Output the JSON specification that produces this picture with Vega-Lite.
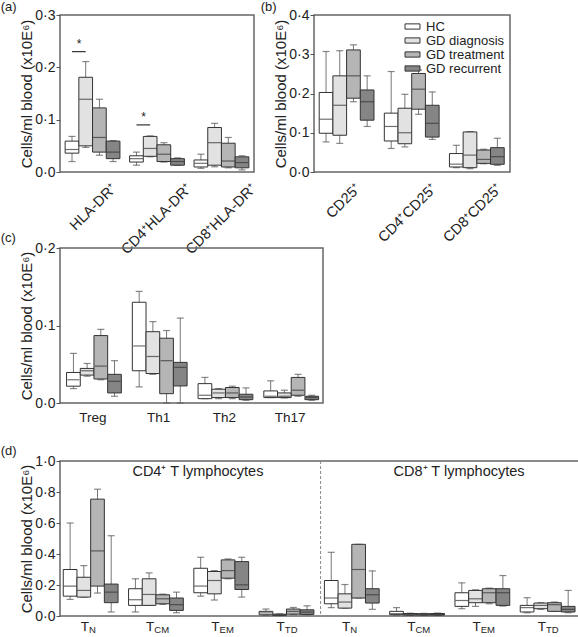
{
  "$schema": "https://vega.github.io/schema/vega-lite/v6.json",
  "padding": {"left": 0, "top": 0, "right": 0, "bottom": 0},
  "config": {
    "font": "Liberation Sans",
    "view": {"stroke": "#666", "strokeWidth": 1.5},
    "axis": {"grid": false, "domain": false, "labelColor": "#222", "titleColor": "#222", "tickColor": "#555", "titleFontWeight": "normal"},
    "axisY": {"tickSize": 4, "labelFontSize": 14, "titleFontSize": 15, "labelPadding": 1, "titlePadding": 0, "labelFlush": false, "labelOverlap": false},
    "axisX": {"ticks": false, "labelFontSize": 13, "labelPadding": 5, "labelOverlap": false},
    "title": {"fontSize": 13, "fontWeight": "normal", "anchor": "start", "frame": "bounds", "color": "#222"}
  },
  "datasets": {
    "a": [
      {"cat":"HLA-DR⁺","grp":"HC","lo":0.020,"q1":0.036,"med":0.043,"q3":0.059,"hi":0.068},
      {"cat":"HLA-DR⁺","grp":"GD diagnosis","lo":0.047,"q1":0.050,"med":0.139,"q3":0.181,"hi":0.211},
      {"cat":"HLA-DR⁺","grp":"GD treatment","lo":0.032,"q1":0.038,"med":0.066,"q3":0.1225,"hi":0.139},
      {"cat":"HLA-DR⁺","grp":"GD recurrent","lo":0.020,"q1":0.0255,"med":0.038,"q3":0.059,"hi":0.060},
      {"cat":"CD4⁺HLA-DR⁺","grp":"HC","lo":0.013,"q1":0.019,"med":0.0255,"q3":0.031,"hi":0.038},
      {"cat":"CD4⁺HLA-DR⁺","grp":"GD diagnosis","lo":0.029,"q1":0.030,"med":0.045,"q3":0.068,"hi":0.069},
      {"cat":"CD4⁺HLA-DR⁺","grp":"GD treatment","lo":0.019,"q1":0.020,"med":0.034,"q3":0.052,"hi":0.056},
      {"cat":"CD4⁺HLA-DR⁺","grp":"GD recurrent","lo":0.0128,"q1":0.013,"med":0.020,"q3":0.0255,"hi":0.027},
      {"cat":"CD8⁺HLA-DR⁺","grp":"HC","lo":0.007,"q1":0.0096,"med":0.0166,"q3":0.023,"hi":0.034},
      {"cat":"CD8⁺HLA-DR⁺","grp":"GD diagnosis","lo":0.010,"q1":0.013,"med":0.056,"q3":0.085,"hi":0.093},
      {"cat":"CD8⁺HLA-DR⁺","grp":"GD treatment","lo":0.008,"q1":0.0096,"med":0.021,"q3":0.055,"hi":0.066},
      {"cat":"CD8⁺HLA-DR⁺","grp":"GD recurrent","lo":0.004,"q1":0.008,"med":0.018,"q3":0.029,"hi":0.031}
    ],
    "asig": [
      {"cat":"HLA-DR⁺","grp":"HC","y":0.23},
      {"cat":"HLA-DR⁺","grp":"GD diagnosis","y":0.23},
      {"cat":"CD4⁺HLA-DR⁺","grp":"HC","y":0.09},
      {"cat":"CD4⁺HLA-DR⁺","grp":"GD diagnosis","y":0.09}
    ],
    "b": [
      {"cat":"CD25⁺","grp":"HC","lo":0.0766,"q1":0.0987,"med":0.1345,"q3":0.2026,"hi":0.307},
      {"cat":"CD25⁺","grp":"GD diagnosis","lo":0.073,"q1":0.0936,"med":0.170,"q3":0.245,"hi":0.309},
      {"cat":"CD25⁺","grp":"GD treatment","lo":0.179,"q1":0.188,"med":0.245,"q3":0.311,"hi":0.324},
      {"cat":"CD25⁺","grp":"GD recurrent","lo":0.116,"q1":0.132,"med":0.179,"q3":0.209,"hi":0.245},
      {"cat":"CD4⁺CD25⁺","grp":"HC","lo":0.060,"q1":0.079,"med":0.116,"q3":0.150,"hi":0.256},
      {"cat":"CD4⁺CD25⁺","grp":"GD diagnosis","lo":0.064,"q1":0.072,"med":0.100,"q3":0.1625,"hi":0.198},
      {"cat":"CD4⁺CD25⁺","grp":"GD treatment","lo":0.147,"q1":0.160,"med":0.211,"q3":0.251,"hi":0.260},
      {"cat":"CD4⁺CD25⁺","grp":"GD recurrent","lo":0.083,"q1":0.089,"med":0.124,"q3":0.170,"hi":0.204},
      {"cat":"CD8⁺CD25⁺","grp":"HC","lo":0.011,"q1":0.0128,"med":0.020,"q3":0.047,"hi":0.068},
      {"cat":"CD8⁺CD25⁺","grp":"GD diagnosis","lo":0.0085,"q1":0.011,"med":0.043,"q3":0.102,"hi":0.103},
      {"cat":"CD8⁺CD25⁺","grp":"GD treatment","lo":0.021,"q1":0.022,"med":0.032,"q3":0.056,"hi":0.058},
      {"cat":"CD8⁺CD25⁺","grp":"GD recurrent","lo":0.017,"q1":0.0196,"med":0.039,"q3":0.062,"hi":0.086}
    ],
    "c": [
      {"cat":"Treg","grp":"HC","lo":0.0186,"q1":0.0217,"med":0.030,"q3":0.0394,"hi":0.064},
      {"cat":"Treg","grp":"GD diagnosis","lo":0.0346,"q1":0.036,"med":0.0416,"q3":0.0446,"hi":0.051},
      {"cat":"Treg","grp":"GD treatment","lo":0.030,"q1":0.031,"med":0.0476,"q3":0.087,"hi":0.095},
      {"cat":"Treg","grp":"GD recurrent","lo":0.0087,"q1":0.013,"med":0.028,"q3":0.037,"hi":0.0546},
      {"cat":"Th1","grp":"HC","lo":0.0208,"q1":0.0416,"med":0.0736,"q3":0.130,"hi":0.144},
      {"cat":"Th1","grp":"GD diagnosis","lo":0.037,"q1":0.038,"med":0.060,"q3":0.092,"hi":0.105},
      {"cat":"Th1","grp":"GD treatment","lo":0.0,"q1":0.012,"med":0.0546,"q3":0.0836,"hi":0.0935},
      {"cat":"Th1","grp":"GD recurrent","lo":0.0,"q1":0.022,"med":0.046,"q3":0.0524,"hi":0.1096},
      {"cat":"Th2","grp":"HC","lo":0.0056,"q1":0.0056,"med":0.010,"q3":0.025,"hi":0.033},
      {"cat":"Th2","grp":"GD diagnosis","lo":0.0056,"q1":0.007,"med":0.013,"q3":0.0178,"hi":0.0186},
      {"cat":"Th2","grp":"GD treatment","lo":0.0056,"q1":0.007,"med":0.013,"q3":0.020,"hi":0.0217},
      {"cat":"Th2","grp":"GD recurrent","lo":0.0035,"q1":0.0043,"med":0.0078,"q3":0.0113,"hi":0.0195},
      {"cat":"Th17","grp":"HC","lo":0.007,"q1":0.007,"med":0.0087,"q3":0.0156,"hi":0.0286},
      {"cat":"Th17","grp":"GD diagnosis","lo":0.0065,"q1":0.007,"med":0.0087,"q3":0.013,"hi":0.0165},
      {"cat":"Th17","grp":"GD treatment","lo":0.0087,"q1":0.010,"med":0.0165,"q3":0.033,"hi":0.037},
      {"cat":"Th17","grp":"GD recurrent","lo":0.0035,"q1":0.0043,"med":0.007,"q3":0.0087,"hi":0.010}
    ],
    "d": [
      {"cat":"CD4 TN","grp":"HC","lo":0.107,"q1":0.128,"med":0.193,"q3":0.30,"hi":0.60},
      {"cat":"CD4 TN","grp":"GD diagnosis","lo":0.122,"q1":0.122,"med":0.165,"q3":0.25,"hi":0.325},
      {"cat":"CD4 TN","grp":"GD treatment","lo":0.148,"q1":0.193,"med":0.42,"q3":0.754,"hi":0.818},
      {"cat":"CD4 TN","grp":"GD recurrent","lo":0.026,"q1":0.086,"med":0.154,"q3":0.206,"hi":0.518},
      {"cat":"CD4 TCM","grp":"HC","lo":0.026,"q1":0.0685,"med":0.105,"q3":0.176,"hi":0.24},
      {"cat":"CD4 TCM","grp":"GD diagnosis","lo":0.0685,"q1":0.0685,"med":0.139,"q3":0.24,"hi":0.278},
      {"cat":"CD4 TCM","grp":"GD treatment","lo":0.075,"q1":0.079,"med":0.111,"q3":0.137,"hi":0.141},
      {"cat":"CD4 TCM","grp":"GD recurrent","lo":0.021,"q1":0.036,"med":0.073,"q3":0.116,"hi":0.154},
      {"cat":"CD4 TEM","grp":"HC","lo":0.128,"q1":0.15,"med":0.193,"q3":0.308,"hi":0.379},
      {"cat":"CD4 TEM","grp":"GD diagnosis","lo":0.103,"q1":0.143,"med":0.229,"q3":0.287,"hi":0.293},
      {"cat":"CD4 TEM","grp":"GD treatment","lo":0.24,"q1":0.244,"med":0.293,"q3":0.362,"hi":0.368},
      {"cat":"CD4 TEM","grp":"GD recurrent","lo":0.122,"q1":0.171,"med":0.201,"q3":0.351,"hi":0.379},
      {"cat":"CD4 TTD","grp":"HC","lo":0.006,"q1":0.008,"med":0.02,"q3":0.03,"hi":0.045},
      {"cat":"CD4 TTD","grp":"GD diagnosis","lo":0.003,"q1":0.004,"med":0.008,"q3":0.012,"hi":0.014},
      {"cat":"CD4 TTD","grp":"GD treatment","lo":0.01,"q1":0.012,"med":0.03,"q3":0.045,"hi":0.055},
      {"cat":"CD4 TTD","grp":"GD recurrent","lo":0.008,"q1":0.01,"med":0.025,"q3":0.04,"hi":0.066},
      {"cat":"CD8 TN","grp":"HC","lo":0.054,"q1":0.079,"med":0.116,"q3":0.229,"hi":0.411},
      {"cat":"CD8 TN","grp":"GD diagnosis","lo":0.051,"q1":0.051,"med":0.09,"q3":0.143,"hi":0.203},
      {"cat":"CD8 TN","grp":"GD treatment","lo":0.116,"q1":0.116,"med":0.30,"q3":0.4625,"hi":0.4625},
      {"cat":"CD8 TN","grp":"GD recurrent","lo":0.043,"q1":0.0835,"med":0.137,"q3":0.176,"hi":0.291},
      {"cat":"CD8 TCM","grp":"HC","lo":0.006,"q1":0.0086,"med":0.015,"q3":0.03,"hi":0.054},
      {"cat":"CD8 TCM","grp":"GD diagnosis","lo":0.004,"q1":0.006,"med":0.01,"q3":0.016,"hi":0.018},
      {"cat":"CD8 TCM","grp":"GD treatment","lo":0.004,"q1":0.006,"med":0.01,"q3":0.015,"hi":0.017},
      {"cat":"CD8 TCM","grp":"GD recurrent","lo":0.004,"q1":0.006,"med":0.01,"q3":0.016,"hi":0.019},
      {"cat":"CD8 TEM","grp":"HC","lo":0.047,"q1":0.062,"med":0.10,"q3":0.15,"hi":0.214},
      {"cat":"CD8 TEM","grp":"GD diagnosis","lo":0.062,"q1":0.0857,"med":0.111,"q3":0.165,"hi":0.169},
      {"cat":"CD8 TEM","grp":"GD treatment","lo":0.079,"q1":0.0857,"med":0.15,"q3":0.176,"hi":0.18},
      {"cat":"CD8 TEM","grp":"GD recurrent","lo":0.064,"q1":0.0685,"med":0.15,"q3":0.176,"hi":0.261},
      {"cat":"CD8 TTD","grp":"HC","lo":0.021,"q1":0.026,"med":0.054,"q3":0.0685,"hi":0.118},
      {"cat":"CD8 TTD","grp":"GD diagnosis","lo":0.043,"q1":0.047,"med":0.0685,"q3":0.0835,"hi":0.086},
      {"cat":"CD8 TTD","grp":"GD treatment","lo":0.03,"q1":0.03,"med":0.073,"q3":0.0857,"hi":0.09},
      {"cat":"CD8 TTD","grp":"GD recurrent","lo":0.021,"q1":0.026,"med":0.043,"q3":0.062,"hi":0.165}
    ]
  },
  "resolve": {"scale": {"fill": "independent"}},
  "bounds": "flush",
  "spacing": 254,
  "hconcat": [
    {
      "bounds": "flush",
      "spacing": 76,
      "resolve": {"scale": {"fill": "independent"}},
      "vconcat": [
        {
          "width": 194, "height": 157,
          "title": {"text": "(a)", "dx": -19, "offset": -6},
          "encoding": {
            "x": {"field": "cat", "type": "nominal", "scale": {"domain": ["HLA-DR⁺","CD4⁺HLA-DR⁺","CD8⁺HLA-DR⁺"], "paddingInner": 0.15, "paddingOuter": 0.08},
                  "axis": {"title": null, "labelAngle": -45, "labelFontSize": 14.5, "labelAlign": "right", "labelBaseline": "top", "labelPadding": 9,
                           "labelOffset": {"condition": {"test": "datum.value === 'HLA-DR⁺'", "value": 17}, "value": 28}}},
            "xOffset": {"field": "grp", "type": "nominal", "scale": {"domain": ["HC","GD diagnosis","GD treatment","GD recurrent"], "paddingInner": 0, "paddingOuter": 0}}
          },
          "layer": [
            {"data": {"name": "a"}, "mark": {"type": "rule", "color": "#777", "strokeWidth": 1},
             "encoding": {"y": {"field": "lo", "type": "quantitative", "scale": {"domain": [0, 0.3], "nice": false}, "axis": {"values": [0, 0.1, 0.2, 0.3], "labelOverlap": false, "labelExpr": "replace(format(datum.value, '.1f'), '.', '·')", "title": "Cells/ml blood (x10E⁶)"}}, "y2": {"field": "hi"}}},
            {"data": {"name": "a"}, "mark": {"type": "tick", "color": "#555", "size": 7, "thickness": 1.2}, "encoding": {"y": {"field": "hi", "type": "quantitative", "axis": {"values": [0, 0.1, 0.2, 0.3], "labelOverlap": false, "labelExpr": "replace(format(datum.value, '.1f'), '.', '·')", "title": "Cells/ml blood (x10E⁶)"}}}},
            {"data": {"name": "a"}, "mark": {"type": "tick", "color": "#555", "size": 7, "thickness": 1.2}, "encoding": {"y": {"field": "lo", "type": "quantitative", "axis": {"values": [0, 0.1, 0.2, 0.3], "labelOverlap": false, "labelExpr": "replace(format(datum.value, '.1f'), '.', '·')", "title": "Cells/ml blood (x10E⁶)"}}}},
            {"data": {"name": "a"}, "mark": {"type": "bar", "stroke": "#333", "strokeWidth": 1},
             "encoding": {"y": {"field": "q1", "type": "quantitative", "axis": {"values": [0, 0.1, 0.2, 0.3], "labelOverlap": false, "labelExpr": "replace(format(datum.value, '.1f'), '.', '·')", "title": "Cells/ml blood (x10E⁶)"}}, "y2": {"field": "q3"}, "fill": {"field": "grp", "type": "nominal", "scale": {"domain": ["HC","GD diagnosis","GD treatment","GD recurrent"], "range": ["#ffffff","#e2e2e2","#b5b5b5","#858585"]}, "legend": null}}},
            {"data": {"name": "a"}, "mark": {"type": "tick", "color": "#333", "size": 13, "thickness": 1.2}, "encoding": {"y": {"field": "med", "type": "quantitative", "axis": {"values": [0, 0.1, 0.2, 0.3], "labelOverlap": false, "labelExpr": "replace(format(datum.value, '.1f'), '.', '·')", "title": "Cells/ml blood (x10E⁶)"}}}},
            {"data": {"name": "asig"}, "mark": {"type": "line", "color": "#333", "strokeWidth": 1.2}, "encoding": {"y": {"field": "y", "type": "quantitative", "axis": {"values": [0, 0.1, 0.2, 0.3], "labelOverlap": false, "labelExpr": "replace(format(datum.value, '.1f'), '.', '·')", "title": "Cells/ml blood (x10E⁶)"}}, "detail": {"field": "cat"}}},
            {"data": {"name": "asig"}, "transform": [{"filter": "datum.grp == 'HC'"}], "mark": {"type": "text", "text": "*", "dx": 7, "dy": -1, "baseline": "bottom", "fontSize": 12, "color": "#222"}, "encoding": {"y": {"field": "y", "type": "quantitative", "axis": {"values": [0, 0.1, 0.2, 0.3], "labelOverlap": false, "labelExpr": "replace(format(datum.value, '.1f'), '.', '·')", "title": "Cells/ml blood (x10E⁶)"}}}}
          ]
        },
        {
          "bounds": "flush",
          "spacing": 58,
          "resolve": {"scale": {"fill": "independent"}},
          "vconcat": [
            {
              "width": 263, "height": 155,
              "title": {"text": "(c)", "dx": -19, "offset": -4},
              "data": {"name": "c"},
              "encoding": {
                "x": {"field": "cat", "type": "nominal", "scale": {"domain": ["Treg","Th1","Th2","Th17"], "paddingInner": 0.2, "paddingOuter": 0.1}, "axis": {"title": null, "labelAngle": 0, "labelFontSize": 13.5, "labelPadding": 7}},
                "xOffset": {"field": "grp", "type": "nominal", "scale": {"domain": ["HC","GD diagnosis","GD treatment","GD recurrent"], "paddingInner": 0, "paddingOuter": 0}}
              },
              "layer": [
                {"mark": {"type": "rule", "color": "#777", "strokeWidth": 1},
                 "encoding": {"y": {"field": "lo", "type": "quantitative", "scale": {"domain": [0, 0.2], "nice": false}, "axis": {"values": [0, 0.1, 0.2], "labelOverlap": false, "labelExpr": "replace(format(datum.value, '.1f'), '.', '·')", "title": "Cells/ml blood (x10E⁶)"}}, "y2": {"field": "hi"}}},
                {"mark": {"type": "tick", "color": "#555", "size": 7, "thickness": 1.2}, "encoding": {"y": {"field": "hi", "type": "quantitative", "axis": {"values": [0, 0.1, 0.2], "labelOverlap": false, "labelExpr": "replace(format(datum.value, '.1f'), '.', '·')", "title": "Cells/ml blood (x10E⁶)"}}}},
                {"mark": {"type": "tick", "color": "#555", "size": 7, "thickness": 1.2}, "encoding": {"y": {"field": "lo", "type": "quantitative", "axis": {"values": [0, 0.1, 0.2], "labelOverlap": false, "labelExpr": "replace(format(datum.value, '.1f'), '.', '·')", "title": "Cells/ml blood (x10E⁶)"}}}},
                {"mark": {"type": "bar", "stroke": "#333", "strokeWidth": 1},
                 "encoding": {"y": {"field": "q1", "type": "quantitative", "axis": {"values": [0, 0.1, 0.2], "labelOverlap": false, "labelExpr": "replace(format(datum.value, '.1f'), '.', '·')", "title": "Cells/ml blood (x10E⁶)"}}, "y2": {"field": "q3"}, "fill": {"field": "grp", "type": "nominal", "scale": {"domain": ["HC","GD diagnosis","GD treatment","GD recurrent"], "range": ["#ffffff","#e2e2e2","#b5b5b5","#858585"]}, "legend": null}}},
                {"mark": {"type": "tick", "color": "#333", "size": 12, "thickness": 1.2}, "encoding": {"y": {"field": "med", "type": "quantitative", "axis": {"values": [0, 0.1, 0.2], "labelOverlap": false, "labelExpr": "replace(format(datum.value, '.1f'), '.', '·')", "title": "Cells/ml blood (x10E⁶)"}}}}
              ]
            },
            {
              "width": 519, "height": 155,
              "title": {"text": "(d)", "dx": -19, "offset": -4},
              "layer": [
                {
                  "data": {"name": "d"},
                  "encoding": {
                    "x": {"field": "cat", "type": "nominal", "scale": {"domain": ["CD4 TN","CD4 TCM","CD4 TEM","CD4 TTD","CD8 TN","CD8 TCM","CD8 TEM","CD8 TTD"], "paddingInner": 0.15, "paddingOuter": 0.05}, "axis": null},
                    "xOffset": {"field": "grp", "type": "nominal", "scale": {"domain": ["HC","GD diagnosis","GD treatment","GD recurrent"], "paddingInner": 0, "paddingOuter": 0}}
                  },
                  "layer": [
                    {"mark": {"type": "rule", "color": "#777", "strokeWidth": 1},
                     "encoding": {
                       "x": {"field": "cat", "type": "nominal", "axis": {"orient": "bottom", "title": null, "labelAngle": 0, "labelExpr": "'T'", "labelFontSize": 13.5, "labelAlign": "right", "labelOffset": -2, "labelPadding": 3}},
                       "y": {"field": "lo", "type": "quantitative", "scale": {"domain": [0, 1], "nice": false}, "axis": {"values": [0, 0.2, 0.4, 0.6, 0.8, 1.0], "labelOverlap": false, "labelExpr": "replace(format(datum.value, '.1f'), '.', '·')", "title": "Cells/ml blood (x10E⁶)"}}, "y2": {"field": "hi"}}},
                    {"mark": {"type": "tick", "color": "#555", "size": 7, "thickness": 1.2}, "encoding": {"y": {"field": "hi", "type": "quantitative", "axis": {"values": [0, 0.2, 0.4, 0.6, 0.8, 1.0], "labelOverlap": false, "labelExpr": "replace(format(datum.value, '.1f'), '.', '·')", "title": "Cells/ml blood (x10E⁶)"}}}},
                    {"mark": {"type": "tick", "color": "#555", "size": 7, "thickness": 1.2}, "encoding": {"y": {"field": "lo", "type": "quantitative", "axis": {"values": [0, 0.2, 0.4, 0.6, 0.8, 1.0], "labelOverlap": false, "labelExpr": "replace(format(datum.value, '.1f'), '.', '·')", "title": "Cells/ml blood (x10E⁶)"}}}},
                    {"mark": {"type": "bar", "stroke": "#333", "strokeWidth": 1},
                     "encoding": {
                       "x": {"field": "cat", "type": "nominal", "axis": {"orient": "bottom", "title": null, "labelAngle": 0, "labelExpr": "slice(datum.value, 5)", "labelFontSize": 9.5, "labelAlign": "left", "labelOffset": -2, "labelPadding": 8}},
                       "y": {"field": "q1", "type": "quantitative", "axis": {"values": [0, 0.2, 0.4, 0.6, 0.8, 1.0], "labelOverlap": false, "labelExpr": "replace(format(datum.value, '.1f'), '.', '·')", "title": "Cells/ml blood (x10E⁶)"}}, "y2": {"field": "q3"}, "fill": {"field": "grp", "type": "nominal", "scale": {"domain": ["HC","GD diagnosis","GD treatment","GD recurrent"], "range": ["#ffffff","#e2e2e2","#b5b5b5","#858585"]}, "legend": null}}},
                    {"mark": {"type": "tick", "color": "#333", "size": 13, "thickness": 1.2}, "encoding": {"y": {"field": "med", "type": "quantitative", "axis": {"values": [0, 0.2, 0.4, 0.6, 0.8, 1.0], "labelOverlap": false, "labelExpr": "replace(format(datum.value, '.1f'), '.', '·')", "title": "Cells/ml blood (x10E⁶)"}}}}
                  ],
                  "resolve": {"axis": {"x": "independent"}}
                },
                {
                  "data": {"values": [{"t": "CD4⁺ T lymphocytes", "c": "CD4 TCM"}, {"t": "CD8⁺ T lymphocytes", "c": "CD8 TCM"}]},
                  "mark": {"type": "text", "fontSize": 14.5, "color": "#222", "baseline": "middle", "align": "center"},
                  "encoding": {"x": {"field": "c", "type": "nominal", "bandPosition": 1.25, "axis": null}, "y": {"datum": 0.93, "type": "quantitative", "axis": {"values": [0, 0.2, 0.4, 0.6, 0.8, 1.0], "labelOverlap": false, "labelExpr": "replace(format(datum.value, '.1f'), '.', '·')", "title": "Cells/ml blood (x10E⁶)"}}, "text": {"field": "t"}}
                },
                {
                  "data": {"values": [{"c": "CD4 TTD"}]},
                  "mark": {"type": "rule", "color": "#888", "strokeDash": [3, 2], "strokeWidth": 1},
                  "encoding": {"x": {"field": "c", "type": "nominal", "bandPosition": 1.108, "axis": null}}
                }
              ],
              "resolve": {"axis": {"x": "independent"}}
            }
          ]
        }
      ]
    },
    {
      "width": 196, "height": 157,
      "title": {"text": "(b)", "dx": -13, "offset": -6},
      "data": {"name": "b"},
      "encoding": {
        "x": {"field": "cat", "type": "nominal", "scale": {"domain": ["CD25⁺","CD4⁺CD25⁺","CD8⁺CD25⁺"], "paddingInner": 0.15, "paddingOuter": 0.08},
              "axis": {"title": null, "labelAngle": -45, "labelFontSize": 14.5, "labelAlign": "right", "labelBaseline": "top", "labelPadding": 9,
                       "labelOffset": {"condition": {"test": "datum.value === 'CD25⁺'", "value": 7}, "value": 18}}},
        "xOffset": {"field": "grp", "type": "nominal", "scale": {"domain": ["HC","GD diagnosis","GD treatment","GD recurrent"], "paddingInner": 0, "paddingOuter": 0}}
      },
      "layer": [
        {"mark": {"type": "rule", "color": "#777", "strokeWidth": 1},
         "encoding": {"y": {"field": "lo", "type": "quantitative", "scale": {"domain": [0, 0.4], "nice": false}, "axis": {"values": [0, 0.1, 0.2, 0.3, 0.4], "labelOverlap": false, "labelExpr": "replace(format(datum.value, '.1f'), '.', '·')", "title": "Cells/ml blood (x10E⁶)"}}, "y2": {"field": "hi"}}},
        {"mark": {"type": "tick", "color": "#555", "size": 7, "thickness": 1.2}, "encoding": {"y": {"field": "hi", "type": "quantitative", "axis": {"values": [0, 0.1, 0.2, 0.3, 0.4], "labelOverlap": false, "labelExpr": "replace(format(datum.value, '.1f'), '.', '·')", "title": "Cells/ml blood (x10E⁶)"}}}},
        {"mark": {"type": "tick", "color": "#555", "size": 7, "thickness": 1.2}, "encoding": {"y": {"field": "lo", "type": "quantitative", "axis": {"values": [0, 0.1, 0.2, 0.3, 0.4], "labelOverlap": false, "labelExpr": "replace(format(datum.value, '.1f'), '.', '·')", "title": "Cells/ml blood (x10E⁶)"}}}},
        {"mark": {"type": "bar", "stroke": "#333", "strokeWidth": 1},
         "encoding": {"y": {"field": "q1", "type": "quantitative", "axis": {"values": [0, 0.1, 0.2, 0.3, 0.4], "labelOverlap": false, "labelExpr": "replace(format(datum.value, '.1f'), '.', '·')", "title": "Cells/ml blood (x10E⁶)"}}, "y2": {"field": "q3"}, "fill": {"field": "grp", "type": "nominal", "scale": {"domain": ["HC","GD diagnosis","GD treatment","GD recurrent"], "range": ["#ffffff","#e2e2e2","#b5b5b5","#858585"]},
           "legend": {"orient": "top-right", "offset": 5, "title": null, "symbolType": "M-2,-0.7H2V0.7H-2Z", "symbolSize": 56, "symbolStrokeColor": "#333", "symbolStrokeWidth": 1, "labelFontSize": 13, "labelColor": "#222", "rowPadding": -2, "labelOffset": 7, "padding": 0, "labelLimit": 200}}}},
        {"mark": {"type": "tick", "color": "#333", "size": 13, "thickness": 1.2}, "encoding": {"y": {"field": "med", "type": "quantitative", "axis": {"values": [0, 0.1, 0.2, 0.3, 0.4], "labelOverlap": false, "labelExpr": "replace(format(datum.value, '.1f'), '.', '·')", "title": "Cells/ml blood (x10E⁶)"}}}}
      ]
    }
  ]
}
